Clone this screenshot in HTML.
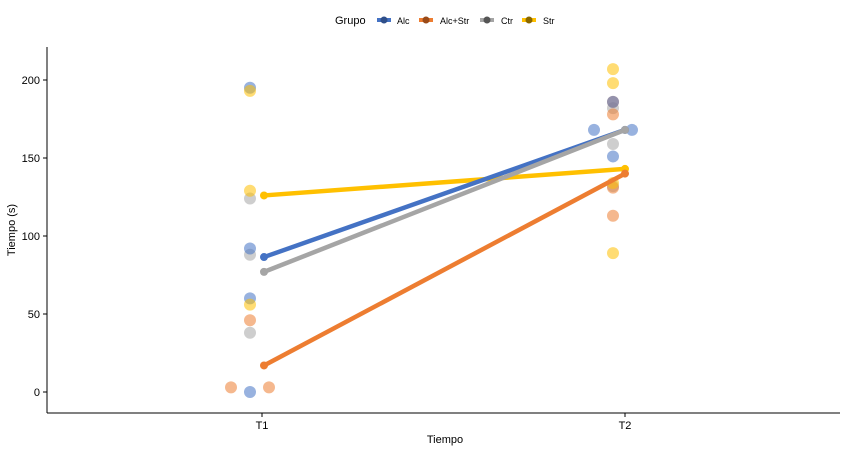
<!DOCTYPE html>
<html><head><meta charset="utf-8"><style>
body{margin:0;background:#fff;font-family:"Liberation Sans",sans-serif}
</style></head><body>
<svg id="c" width="849" height="453" font-family="Liberation Sans, sans-serif">
<g>
<text x="335" y="24" font-size="11">Grupo</text>
<g><rect x="377" y="18" width="14" height="4" fill="#4472c4"/><circle cx="384" cy="20" r="3.5" fill="#2f4f8a"/><text x="397" y="24" font-size="9">Alc</text></g>
<g><rect x="419" y="18" width="14" height="4" fill="#ed7d31"/><circle cx="426" cy="20" r="3.5" fill="#9a4a18"/><text x="440" y="24" font-size="9">Alc+Str</text></g>
<g><rect x="480" y="18" width="14" height="4" fill="#a5a5a5"/><circle cx="487" cy="20" r="3.5" fill="#555"/><text x="501" y="24" font-size="9">Ctr</text></g>
<g><rect x="522" y="18" width="14" height="4" fill="#ffc000"/><circle cx="529" cy="20" r="3.5" fill="#8a6800"/><text x="543" y="24" font-size="9">Str</text></g>
</g>
<line x1="47" y1="47" x2="47" y2="413" stroke="#000"/>
<line x1="47" y1="413" x2="840" y2="413" stroke="#000"/>
<text x="445" y="443" font-size="11" text-anchor="middle">Tiempo</text>
<text transform="translate(15,230) rotate(-90)" font-size="11" text-anchor="middle">Tiempo (s)</text>
<g id="ticks"></g><g id="pts"></g><g id="lines"></g>
</svg>
<script>
const categories=["T1","T2"];
const groups=["Alc","Alc+Str","Ctr","Str"];
const colors=["#4472c4","#ed7d31","#a5a5a5","#ffc000"];
const yTicks=[0,50,100,150,200];
const meansT1=[86.5,17,77,126];
const meansT2=[168,140,168,143];
const ptsAlcT1=[195,92,60,0];
const ptsAlcT2=[186,168,168,151];
const ptsAlcStrT1=[46,3,3];
const ptsAlcStrT2=[186,178,131,113];
const ptsCtrT1=[124,88,38];
const ptsCtrT2=[182,159,132];
const ptsStrT1=[193,129,56];
const ptsStrT2=[207,198,134,89];
const jitAlcT2=[0,-19,19,0];
const jitAlcStrT1=[0,-19,19];
const ns="http://www.w3.org/2000/svg";
const y=v=>392-v*1.56;
const x=i=>262+i*363;
function mk(t,a,p){const e=document.createElementNS(ns,t);for(const k in a)e.setAttribute(k,a[k]);p.appendChild(e);return e;}
const tk=document.getElementById('ticks');
yTicks.forEach(v=>{
 const l=mk('line',{x1:43,x2:47,y1:y(v),y2:y(v),stroke:'#000'},tk);
 
 
 const t=mk('text',{x:40,y:y(v)+4,'font-size':11,'text-anchor':'end'},tk);t.textContent=v;
 
 
});
categories.forEach((c,i)=>{
 mk('line',{x1:x(i),x2:x(i),y1:413,y2:417,stroke:'#000'},tk);
 const t=mk('text',{x:x(i),y:429,'font-size':11,'text-anchor':'middle'},tk);t.textContent=c;
 
 
});
const pg=document.getElementById('pts');
const sets=[[ptsAlcT1,ptsAlcT2],[ptsAlcStrT1,ptsAlcStrT2],[ptsCtrT1,ptsCtrT2],[ptsStrT1,ptsStrT2]];
const jits={"0-1":jitAlcT2,"1-0":jitAlcStrT1};
[2,1,0,3].forEach(g=>{
 sets[g].forEach((arr,i)=>{
  const j=jits[g+"-"+i]||[];
  arr.forEach((v,k)=>{
   const c=mk('circle',{cx:x(i)-12+(j[k]||0),cy:y(v),r:6,fill:colors[g],'fill-opacity':0.55},pg);
   
   
  });
 });
});
const lg=document.getElementById('lines');
[3,1,0,2].forEach(g=>{
 const l=mk('line',{x1:x(0)+2,y1:y(meansT1[g]),x2:x(1),y2:y(meansT2[g]),stroke:colors[g],'stroke-width':4.5},lg);
 
 
 [[x(0)+2,meansT1[g]],[x(1),meansT2[g]]].forEach(p=>{
  const c=mk('circle',{cx:p[0],cy:y(p[1]),r:4,fill:colors[g]},lg);
  
  
 });
});
</script>
</body></html>
